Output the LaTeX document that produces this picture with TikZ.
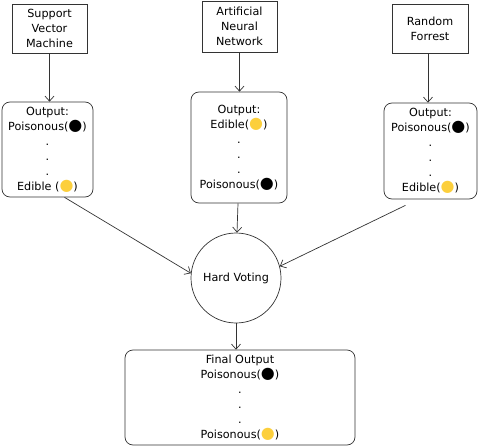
\documentclass[tikz,border=0pt]{standalone}
\usepackage{fontspec}
\setmainfont{DejaVu Sans}
\usetikzlibrary{arrows.meta}
\definecolor{inkgray}{HTML}{333333}
\definecolor{dotyellow}{HTML}{FCCF3C}
\newcommand{\blackdot}{{\fontsize{16}{15}\selectfont\textcolor{black}{●}}}
\newcommand{\yellowdot}{{\fontsize{16}{15}\selectfont\textcolor{dotyellow}{●}}}
\tikzstyle{model}=[draw=inkgray, align=center, inner sep=0, minimum width=75pt, minimum height=49pt,
                   font=\fontsize{11.2}{15}\selectfont]
\tikzstyle{output}=[draw=inkgray, rounded corners=8pt, align=center, inner sep=0,
                    font=\fontsize{11.2}{15}\selectfont]
\tikzstyle{voter}=[draw=inkgray, circle, minimum size=90pt, inner sep=0, font=\fontsize{11.2}{15}\selectfont]
\tikzstyle{flow}=[draw=inkgray, line width=0.7pt, -{Straight Barb[length=5pt, width=9pt]}]

\begin{document}
\begin{tikzpicture}[x=1pt, y=-1pt, line width=0.7pt]
        \useasboundingbox (0, 0) rectangle (480, 447);
        % Models.
        \node[model] (svm) at (49.5, 28.5) {Support\\Vector\\Machine};
        \node[model, minimum height=51pt] (ann) at (239.5, 26.5) {Artificial\\Neural\\Network};
        \node[model, minimum width=76pt] (rf) at (430, 28.5) {Random\\Forrest};
        % Predictions of each model.
        \node[output, minimum width=91pt, minimum height=95pt] (svmout) at (47.5, 149.5)
            {Output:\\Poisonous(\blackdot)\\.\\.\\.\\Edible (\yellowdot)};
        \node[output, minimum width=96pt, minimum height=111pt] (annout) at (239, 147.5)
            {Output:\\Edible(\yellowdot)\\.\\.\\.\\Poisonous(\blackdot)};
        \node[output, minimum width=93pt, minimum height=96pt] (rfout) at (430.5, 151)
            {Output:\\Poisonous(\blackdot)\\.\\.\\.\\Edible(\yellowdot)};
        % Voting.
        \node[voter] (vote) at (236, 278) {Hard Voting};
        \node[output, minimum width=230pt, minimum height=95pt] (final) at (240, 397.5)
            {Final Output\\Poisonous(\blackdot)\\.\\.\\.\\Poisonous(\yellowdot)};
        \draw[flow] (svm.south) -- (svm.south |- svmout.north);
        \draw[flow] (ann.south) -- (ann.south |- annout.north);
        \draw[flow] ([xshift=-2pt]rf.south) -- ([xshift=-2pt]rf.south |- rfout.north);
        \draw[flow] ([xshift=17pt]svmout.south) -- (vote.174);
        \draw[flow] ([xshift=-25pt, yshift=-6pt]rfout.south) -- (vote.15);
        \draw[flow] ([xshift=-1pt]annout.south) -- ([xshift=1pt]vote.north);
        \draw[flow] (vote.south) -- (vote.south |- final.north);
    \end{tikzpicture}
\end{document}
